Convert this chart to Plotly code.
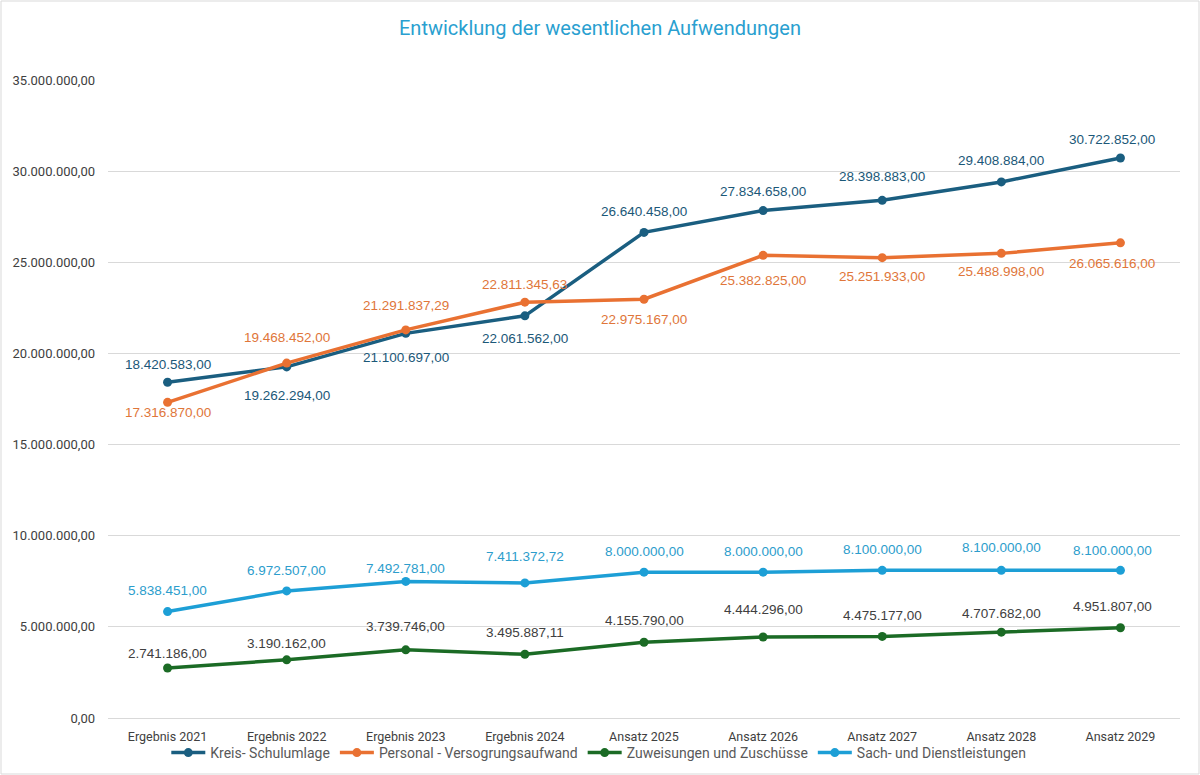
import plotly.graph_objects as go

categories = ["Ergebnis 2021", "Ergebnis 2022", "Ergebnis 2023", "Ergebnis 2024",
              "Ansatz 2025", "Ansatz 2026", "Ansatz 2027", "Ansatz 2028", "Ansatz 2029"]

kreis = [18420583.00, 19262294.00, 21100697.00, 22061562.00, 26640458.00,
         27834658.00, 28398883.00, 29408884.00, 30722852.00]
personal = [17316870.00, 19468452.00, 21291837.29, 22811345.63, 22975167.00,
            25382825.00, 25251933.00, 25488998.00, 26065616.00]
zuweisungen = [2741186.00, 3190162.00, 3739746.00, 3495887.11, 4155790.00,
               4444296.00, 4475177.00, 4707682.00, 4951807.00]
sach = [5838451.00, 6972507.00, 7492781.00, 7411372.72, 8000000.00,
        8000000.00, 8100000.00, 8100000.00, 8100000.00]

names = ["Kreis- Schulumlage", "Personal - Versogrungsaufwand",
         "Zuweisungen und Zuschüsse", "Sach- und Dienstleistungen"]

# label placement (pixel offsets of data labels relative to their points)
shift_kreis = [18, -29, -24, -23, 21, 19, 24, 21, 18]
shift_personal = [-10, 26, 24, 18, -20, -25, -19, -18, -21]
shift_zuw = [15, 16, 23, 22, 22, 27, 21, 19, 21]
shift_sach = [21, 20, 13, 26, 21, 21, 21, 23, 20]
xshift_last = [0, 0, 0, 0, 0, 0, 0, 0, -8]


def de(v):
    s = f"{v:,.2f}"
    return s.replace(",", "X").replace(".", ",").replace("X", ".")


series = [
    (names[0], kreis, "#1a5e80", "#1b5878", shift_kreis),
    (names[1], personal, "#e97132", "#e0763a", shift_personal),
    (names[2], zuweisungen, "#1b6b25", "#404040", shift_zuw),
    (names[3], sach, "#1d9fd6", "#2c9dcc", shift_sach),
]

fig = go.Figure()
annotations = []
for name, vals, col, tcol, shifts in series:
    fig.add_trace(go.Scatter(
        x=categories, y=vals, name=name, mode="lines+markers",
        line=dict(color=col, width=3.5),
        marker=dict(color=col, size=9),
    ))
    for i, (c, v) in enumerate(zip(categories, vals)):
        annotations.append(dict(
            x=c, y=v, text=de(v), showarrow=False,
            yshift=shifts[i], xshift=xshift_last[i],
            font=dict(family="Liberation Sans, Arial, sans-serif", size=13.5, color=tcol),
        ))

W, H = 1200, 775
ml, mr, mt, mb = 108, 20, 80, 57
pw, ph = W - ml - mr, H - mt - mb
narrow = "Liberation Sans Narrow, Arial Narrow, Roboto, sans-serif"

fig.update_layout(
    width=W, height=H,
    margin=dict(l=ml, r=mr, t=mt, b=mb, autoexpand=False),
    paper_bgcolor="white", plot_bgcolor="white",
    separators=",.",
    title=dict(text="Entwicklung der wesentlichen Aufwendungen",
               x=0.5, xanchor="center", y=1 - 28 / H, yanchor="middle",
               font=dict(family=narrow, size=20, color="#2a9fd0")),
    showlegend=True,
    legend=dict(orientation="h", xref="container", x=0.499, xanchor="center",
                yref="container", y=1 - 753 / H, yanchor="middle",
                font=dict(family=narrow, size=14, color="#595959"),
                bgcolor="rgba(0,0,0,0)", itemwidth=34, tracegroupgap=0),
    annotations=annotations,
    shapes=[dict(type="rect", xref="paper", yref="paper",
                 x0=-(ml - 1) / pw, x1=1 + (mr - 1) / pw,
                 y0=-(mb - 1) / ph, y1=1 + (mt - 1) / ph,
                 line=dict(color="#d9d9d9", width=1), fillcolor="rgba(0,0,0,0)",
                 layer="below")],
)

fig.update_xaxes(
    type="category", range=[-0.5, 8.5], showgrid=False,
    showline=True, linecolor="#d9d9d9", linewidth=1,
    ticks="", ticklabelstandoff=7,
    tickfont=dict(family=narrow, size=12.5, color="#404040"),
)
fig.update_yaxes(
    range=[0, 35000000], dtick=5000000, tickformat=",.2f",
    showgrid=True, gridcolor="#d9d9d9", gridwidth=1, zeroline=False,
    showline=False, ticks="", ticklabelstandoff=12,
    tickfont=dict(family=narrow, size=13, color="#404040"),
)

fig.write_html("out.html", config={"displayModeBar": False},
               post_script="document.body.style.margin='0';")
